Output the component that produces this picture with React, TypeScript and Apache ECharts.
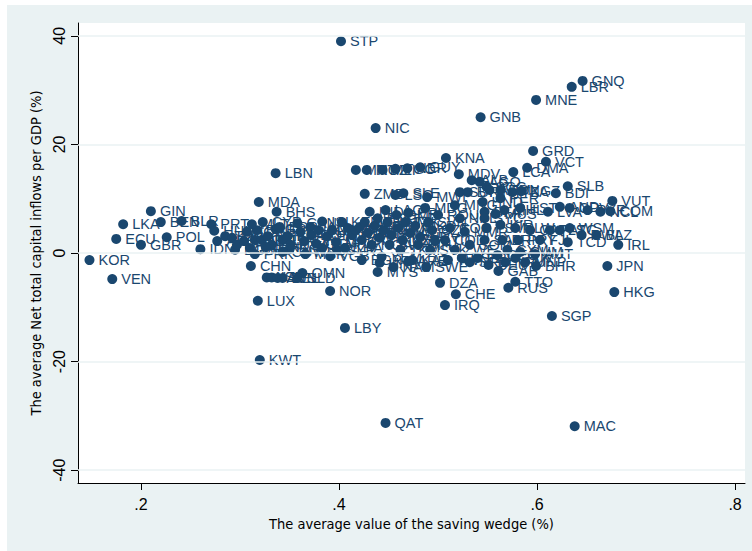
import React, { useEffect, useRef } from "react";
import * as echarts from "echarts";

// Country codes, saving wedge (x) and net capital inflows % GDP (y)
const codes = [
  "STP","GNQ","LBR","MNE","GNB","NIC","GRD","VCT","KNA","GUY",
  "LCA","DMA","MDV","LBN","MRT","MOZ","MLI","TGO","NER","SLB",
  "BDI","VUT","COM","ZMB","SLE","LSO","MWI","MDA","BHS","GIN",
  "LKA","BEN","BLR","PRT","HUN","ECU","POL","GBR","KOR","VEN",
  "IDN","CHN","LUX","KWT","NOR","LBY","OMN","QAT","MAC","SGP",
  "HKG","JPN","IRL","BHR","AUT","TCD","RUS","TTO","GAB","DEU",
  "DZA","CHE","IRQ","SWE","MYS","ISL","NZL","ISR","AUS","BEL",
  "NLD","CYP","SYR","THA","BGD","EGY","IND","MDG","NAM","SCG",
  "CAF","WSM","EST","LVA","CPV","TZA","KGZ","HND","ALB","AGO",
  "ARM","BFA","PER","BLZ","RWA","PRY","FJI","GEO",
  "ARG","TUR","MEX","BRA","COL","ZAF","URY","CHL","PHL","PAK",
  "GRC","ESP","ITA","FRA","USA","CAN","DNK","FIN","JAM","DOM",
  "GTM","SLV","CRI","PAN","TUN","MAR","JOR","BRB","MLT","IRN",
  "KEN","UGA","GHA","SEN","CMR","CIV","ETH","SDN","NGA","BOL",
  "PNG","HTI","YEM","KHM","LAO","VNM","BWA","SWZ","GMB","DJI",
  "TKM","UZB","TJK","ERI","AZE","KAZ","MKD","BIH","HRV","SVN",
  "SVK","CZE","LTU","ROU","BGR","UKR","ARE","SUR","BTN","TON",
  "KIR","SYC","MUS","MHL","FSM","PLW","TLS","ATG","AND","PYF",
  "NCL","SAU","BRN","PRI","MNG","NPL","MMR","SOM","COG","COD",
  "ZWE","PSE","TWN","SRB","CYM","GUM","NRU","TUV","MNP","PRK",
  "CUW","MSR","VGB"
];

const wedge = [
  0.402,0.646,0.635,0.599,0.543,0.437,0.596,0.609,0.508,0.482,
  0.576,0.590,0.521,0.336,0.417,0.428,0.444,0.457,0.469,0.631,
  0.619,0.676,0.674,0.426,0.465,0.457,0.489,0.319,0.337,0.210,
  0.182,0.220,0.241,0.271,0.274,0.175,0.226,0.200,0.148,0.171,
  0.260,0.311,0.318,0.320,0.391,0.406,0.363,0.447,0.638,0.615,
  0.678,0.671,0.682,0.599,0.598,0.631,0.571,0.578,0.561,0.551,
  0.502,0.518,0.507,0.488,0.439,0.383,0.327,0.332,0.338,0.343,
  0.358,0.323,0.398,0.406,0.295,0.350,0.431,0.487,0.455,0.549,
  0.593,0.633,0.583,0.611,0.633,0.575,0.584,0.545,0.534,0.542,
  0.552,0.547,0.563,0.660,0.645,0.581,0.603,0.560,
  0.277,0.285,0.292,0.297,0.304,0.310,0.315,0.322,0.328,0.332,
  0.336,0.340,0.343,0.348,0.351,0.358,0.361,0.365,0.371,0.372,
  0.377,0.379,0.383,0.388,0.393,0.397,0.307,0.317,0.312,0.326,
  0.403,0.409,0.413,0.417,0.421,0.423,0.426,0.429,0.433,0.436,
  0.439,0.441,0.443,0.445,0.447,0.449,0.451,0.453,0.458,0.460,
  0.462,0.464,0.467,0.470,0.472,0.474,0.477,0.480,0.482,0.490,
  0.492,0.494,0.497,0.500,0.423,0.441,0.470,0.522,0.530,0.563,
  0.563,0.547,0.558,0.567,0.549,0.578,0.613,0.623,0.623,0.651,
  0.664,0.547,0.565,0.540,0.517,0.522,0.527,0.532,0.512,0.507,
  0.517,0.524,0.510,0.532,0.570,0.583,0.568,0.578,0.588,0.315,
  0.343,0.366,0.391
];

const inflow = [
  39.0,31.7,30.6,28.2,25.0,23.0,18.8,16.8,17.5,15.8,
  14.9,15.7,14.5,14.7,15.3,15.3,15.3,15.5,15.6,12.3,
  11.0,9.6,7.7,10.9,11.0,10.7,10.3,9.4,7.6,7.7,
  5.3,5.7,5.9,5.3,4.1,2.6,2.9,1.5,-1.3,-4.8,
  0.7,-2.4,-8.8,-19.7,-7.0,-13.8,-3.7,-31.3,-31.9,-11.6,
  -7.2,-2.4,1.5,-2.4,-0.2,2.0,-6.4,-5.3,-3.3,-2.2,
  -5.5,-7.6,-9.6,-2.6,-3.5,5.8,-4.5,-4.5,-4.6,-4.6,
  -4.6,5.7,0.6,0.9,0.6,0.7,7.6,8.3,-2.6,12.2,
  4.2,4.6,8.3,7.6,8.3,11.2,11.4,9.4,13.4,13.1,
  11.6,7.6,10.1,3.3,3.3,2.4,2.4,-0.4,
  2.2,3.1,2.8,1.5,2.2,0.9,2.4,2.4,3.1,1.5,
  4.4,4.8,2.4,3.1,1.5,5.5,3.9,2.2,4.8,3.3,
  1.7,4.2,0.9,3.1,4.2,2.0,3.9,4.2,5.3,1.1,
  5.7,4.6,3.3,4.2,4.8,2.4,5.7,3.7,1.5,5.0,
  6.4,2.8,-0.7,4.2,7.9,5.7,1.5,3.3,7.0,4.6,
  0.6,2.4,5.7,7.4,3.7,-1.3,5.0,1.5,2.9,5.7,
  0.6,4.2,2.2,7.0,-1.3,-1.8,-1.5,11.2,11.2,11.6,
  5.2,6.4,7.2,7.9,4.6,4.6,4.2,4.2,8.5,7.9,
  7.6,2.4,2.4,-0.9,8.8,6.4,3.9,1.5,4.6,2.4,
  0.6,-0.9,-1.3,-1.7,0.6,0.2,-1.7,-0.9,-1.7,-0.2,
  0.2,-0.2,-0.6
];

const xTicks = [0.2, 0.4, 0.6, 0.8];
const yTicks = [-40, -20, 0, 20, 40];

const NAVY = "#1a476f";
const BG = "#eaf2f3";

export default function App() {
  const ref = useRef<HTMLDivElement>(null);

  useEffect(() => {
    if (!ref.current) return;
    const chart = echarts.init(ref.current, null, { renderer: "svg" });
    const data = codes.map((c, i) => ({ name: c, value: [wedge[i], inflow[i]] }));
    chart.setOption({
      animation: false,
      backgroundColor: BG,
      grid: {
        left: 71,
        right: 7,
        top: 18,
        bottom: 68,
        show: true,
        backgroundColor: "#ffffff",
        borderWidth: 0,
      },
      xAxis: {
        type: "value",
        min: 0.1364,
        max: 0.81,
        axisLine: { show: true, onZero: false, lineStyle: { color: "#000", width: 1 } },
        axisTick: { show: true, length: 7, customValues: xTicks, lineStyle: { color: "#000" } },
        axisLabel: {
          customValues: xTicks,
          formatter: (v: number) => "." + Math.round(v * 10),
          fontSize: 16,
          color: "#000",
          margin: 13,
          fontFamily: "Liberation Sans",
        },
        splitLine: { show: false },
        name: "The average value of the saving wedge (%)",
        nameLocation: "middle",
        nameGap: 31,
        nameTextStyle: {
          fontSize: 14.5,
          fontFamily: "Liberation Sans Narrow, DejaVu Sans Condensed, sans-serif",
          color: "#000",
        },
      },
      yAxis: {
        type: "value",
        min: -42.36,
        max: 42.36,
        axisLine: { show: true, onZero: false, lineStyle: { color: "#000", width: 1 } },
        axisTick: { show: true, length: 7, customValues: yTicks, lineStyle: { color: "#000" } },
        axisLabel: {
          customValues: yTicks,
          rotate: 90,
          fontSize: 16,
          color: "#000",
          margin: 11,
          fontFamily: "Liberation Sans",
        },
        splitLine: { show: false },
        name: "The average Net total capital inflows per GDP (%)",
        nameLocation: "middle",
        nameGap: 35,
        nameTextStyle: {
          fontSize: 14.5,
          fontFamily: "Liberation Sans Narrow, DejaVu Sans Condensed, sans-serif",
          color: "#000",
        },
      },
      series: [
        {
          type: "scatter",
          data: [],
          z: 1,
          silent: true,
          markLine: {
            silent: true,
            symbol: ["none", "none"],
            label: { show: false },
            lineStyle: { color: BG, width: 1.5, type: "solid" },
            data: yTicks.map((v) => ({ yAxis: v })),
          },
        },
        {
          type: "scatter",
          z: 3,
          data,
          symbol: "circle",
          symbolSize: 10,
          itemStyle: { color: NAVY, opacity: 1 },
          label: {
            show: true,
            position: "right",
            distance: 4,
            formatter: "{b}",
            color: NAVY,
            fontSize: 14.5,
            fontFamily: "Liberation Sans",
          },
        },
      ],
    });
    return () => chart.dispose();
  }, []);

  return (
    <div style={{ position: "fixed", left: 0, top: 0, width: 752, height: 551, background: "#fff" }}>
      <div ref={ref} style={{ position: "absolute", left: 7, top: 5, width: 745, height: 546 }} />
    </div>
  );
}
